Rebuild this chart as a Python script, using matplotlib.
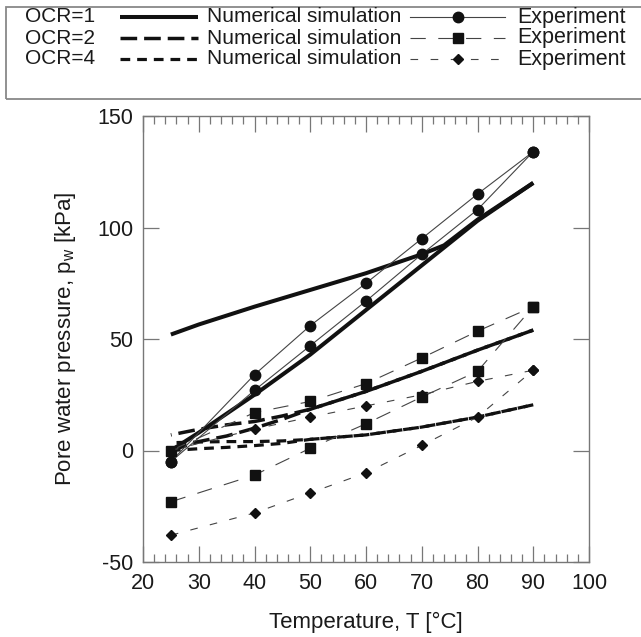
import numpy as np
import matplotlib
matplotlib.use("Agg")
import matplotlib.pyplot as plt
from matplotlib.lines import Line2D
from matplotlib.patches import Rectangle
from matplotlib.ticker import MultipleLocator

plt.rcParams["font.family"] = ["Liberation Sans", "DejaVu Sans"]
plt.rcParams["lines.scale_dashes"] = False
plt.rcParams["axes.unicode_minus"] = False

# experiment (two branches per OCR)
T_exp = [25, 40, 50, 60, 70, 80, 90]
exp1_a = [-5, 34, 56, 75, 95, 115, 134]
exp1_b = [-5, 27, 47, 67, 88, 108, 134]
exp2_a = [0, 17, 22, 30, 41.5, 53.5, 64.5]
exp2_b = [-23, -11, 1, 12, 24, 35.5, 64.5]
exp4_a = [0, 9.6, 15, 20, 25, 31, 36]
exp4_b = [-38, -28, -19, -10, 2.3, 15, 36]

# numerical simulation
sim1_heat_T = [25, 30, 40, 50, 60, 70, 80, 90]
sim1_heat_p = [0, 8, 25, 43, 63, 83, 103, 120]
sim1_cool_T = [90, 80, 74, 70, 60, 50, 40, 30, 25]
sim1_cool_p = [120, 103.5, 92, 88, 79.5, 72, 64.5, 56.5, 52]

sim2_heat_T = [25, 30, 35, 40, 45, 50, 60, 70, 80, 90]
sim2_heat_p = [0, 4, 6.5, 10, 14, 18.5, 26.5, 35.5, 45, 54]
sim2_cool_T = [90, 80, 70, 60, 50, 45, 40, 35, 30, 25]
sim2_cool_p = [54, 45, 35.5, 26.5, 18.5, 15.5, 13, 11.5, 9.5, 7]

sim4_heat_T = [25, 30, 35, 40, 45, 50, 60, 70, 80, 90]
sim4_heat_p = [0, 0.8, 1.4, 2.2, 3.2, 5, 7, 10.5, 15, 20.5]
sim4_cool_T = [90, 80, 70, 60, 50, 45, 40, 35, 30, 25]
sim4_cool_p = [20.5, 15, 10.5, 7, 5, 4.3, 4, 4, 3.8, 3.5]

ocr_labels = ["OCR=1", "OCR=2", "OCR=4"]

W, H = 641, 637
fig = plt.figure(figsize=(W / 100, H / 100), dpi=100)
ax = fig.add_axes([143 / W, 1 - 562 / H, 446 / W, 446 / H])

txt = "#1a1a1a"
sim_style = [
    dict(ls="-", lw=2.9),
    dict(ls=(0, (12, 5)), lw=2.5),
    dict(ls=(0, (7, 5)), lw=2.3),
]
exp_style = [
    dict(ls="-", marker="o", ms=7.5),
    dict(ls=(0, (11, 9)), marker="s", ms=7.5),
    dict(ls=(0, (5.5, 9)), marker="D", ms=5.5),
]

sims = [
    (sim1_heat_T, sim1_heat_p, sim1_cool_T, sim1_cool_p),
    (sim2_heat_T, sim2_heat_p, sim2_cool_T, sim2_cool_p),
    (sim4_heat_T, sim4_heat_p, sim4_cool_T, sim4_cool_p),
]
exps = [(exp1_a, exp1_b), (exp2_a, exp2_b), (exp4_a, exp4_b)]

for (ht, hp, ct, cp), st in zip(sims, sim_style):
    ax.plot(ht, hp, color="#111111", solid_capstyle="butt", dash_capstyle="butt", **st)
    ax.plot(ct, cp, color="#111111", solid_capstyle="butt", dash_capstyle="butt", **st)

for (a, b), st in zip(exps, exp_style):
    for ser in (a, b):
        ax.plot(T_exp, ser, color="#444444", lw=0.8, mfc="#111111", mec="#111111",
                **st)

ax.set_xlim(20, 100)
ax.set_ylim(-50, 150)
ax.xaxis.set_major_locator(MultipleLocator(10))
ax.xaxis.set_minor_locator(MultipleLocator(2))
ax.yaxis.set_major_locator(MultipleLocator(50))
ax.tick_params(which="both", direction="in", top=True, right=True, color="#777777",
               labelcolor=txt, labelsize=15.5)
ax.tick_params(which="major", length=11.5, width=0.9)
ax.tick_params(which="minor", length=6, width=0.9)
ax.tick_params(axis="x", pad=8)
ax.tick_params(axis="y", pad=7)
for s in ax.spines.values():
    s.set_color("#777777")
    s.set_linewidth(1.0)

ax.set_xlabel("Temperature, T [°C]", fontsize=16, color=txt, labelpad=13)
ax.set_ylabel("Pore water pressure, p$_\\mathregular{w}$ [kPa]", fontsize=16,
              color=txt, labelpad=14)

# legend box drawn at the top of the figure
def fx(px):
    return px / W

def fy(py):
    return 1 - py / H

fig.add_artist(Rectangle((fx(6), fy(99)), fx(700), 92 / H, transform=fig.transFigure,
                         fill=False, ec="#888888", lw=1.3))
rows = [17, 38, 59]
for i, y in enumerate(rows):
    fig.text(fx(25), fy(y), ocr_labels[i], fontsize=15, color=txt, va="center")
    fig.add_artist(Line2D([fx(120), fx(198)], [fy(y), fy(y)], transform=fig.transFigure,
                          color="#111111", solid_capstyle="butt", dash_capstyle="butt",
                          **sim_style[i]))
    fig.text(fx(207), fy(y), "Numerical simulation", fontsize=15, color=txt, va="center")
    fig.add_artist(Line2D([fx(410), fx(505)], [fy(y), fy(y)], transform=fig.transFigure,
                          color="#444444", lw=0.8, **{k: v for k, v in exp_style[i].items()
                                                       if k != "marker" and k != "ms"}))
    fig.add_artist(Line2D([fx(458)], [fy(y)], transform=fig.transFigure, ls="none",
                          marker=exp_style[i]["marker"], ms=exp_style[i]["ms"],
                          mfc="#111111", mec="#111111"))
    fig.text(fx(517), fy(y), "Experiment", fontsize=15.5, color=txt, va="center")

fig.savefig("out.png", dpi=100)
